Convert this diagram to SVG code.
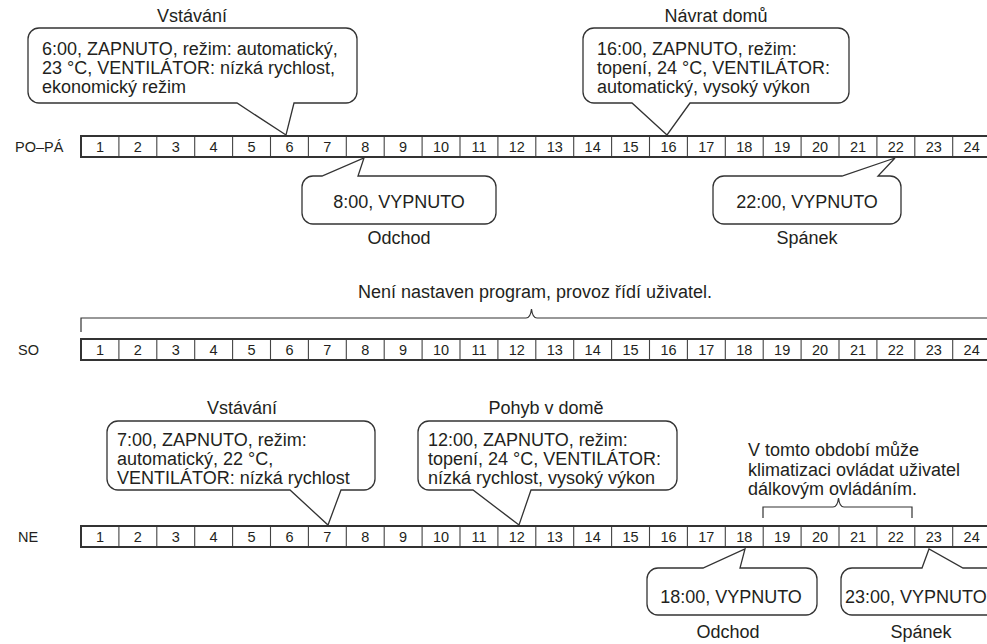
<svg xmlns="http://www.w3.org/2000/svg" width="987" height="644" viewBox="0 0 987 644">
<style>
text{font-family:"Liberation Sans",Arial,sans-serif;fill:#231f20}
.t{font-size:18px}
.n{font-size:14.5px;text-anchor:middle}
.lbl{font-size:14.5px}
.c{text-anchor:middle}
.box{fill:#fff;stroke:#333;stroke-width:1.3}
.edge{fill:none;stroke:#333;stroke-width:2}
.sep{fill:none;stroke:#444;stroke-width:1.1}
.br{fill:none;stroke:#333;stroke-width:1.2}
</style>
<rect width="987" height="644" fill="#fff"/>

<g id="row-po-pa">
<text class="lbl" x="15" y="152">PO–PÁ</text>
<path class="sep" d="M81,136 v21 m37.9,-21 v21 m37.9,-21 v21 m37.9,-21 v21 m37.9,-21 v21 m37.9,-21 v21 m37.9,-21 v21 m37.9,-21 v21 m37.9,-21 v21 m37.9,-21 v21 m37.9,-21 v21 m37.9,-21 v21 m37.9,-21 v21 m37.9,-21 v21 m37.9,-21 v21 m37.9,-21 v21 m37.9,-21 v21 m37.9,-21 v21 m37.9,-21 v21 m37.9,-21 v21 m37.9,-21 v21 m37.9,-21 v21 m37.9,-21 v21 m37.9,-21 v21"/>
<path class="edge" d="M80,136 H992 M80,157 H992 M81,135 V158"/>
<text class="n" x="99.95" y="151.5">1</text><text class="n" x="137.85" y="151.5">2</text><text class="n" x="175.75" y="151.5">3</text><text class="n" x="213.65" y="151.5">4</text><text class="n" x="251.55" y="151.5">5</text><text class="n" x="289.45" y="151.5">6</text><text class="n" x="327.35" y="151.5">7</text><text class="n" x="365.25" y="151.5">8</text><text class="n" x="403.15" y="151.5">9</text><text class="n" x="441.05" y="151.5">10</text><text class="n" x="478.95" y="151.5">11</text><text class="n" x="516.85" y="151.5">12</text><text class="n" x="554.75" y="151.5">13</text><text class="n" x="592.65" y="151.5">14</text><text class="n" x="630.55" y="151.5">15</text><text class="n" x="668.45" y="151.5">16</text><text class="n" x="706.35" y="151.5">17</text><text class="n" x="744.25" y="151.5">18</text><text class="n" x="782.15" y="151.5">19</text><text class="n" x="820.05" y="151.5">20</text><text class="n" x="857.95" y="151.5">21</text><text class="n" x="895.85" y="151.5">22</text><text class="n" x="933.75" y="151.5">23</text><text class="n" x="971.65" y="151.5">24</text>
</g>

<g id="row-so">
<text class="lbl" x="18" y="355">SO</text>
<path class="sep" d="M81,339 v21 m37.9,-21 v21 m37.9,-21 v21 m37.9,-21 v21 m37.9,-21 v21 m37.9,-21 v21 m37.9,-21 v21 m37.9,-21 v21 m37.9,-21 v21 m37.9,-21 v21 m37.9,-21 v21 m37.9,-21 v21 m37.9,-21 v21 m37.9,-21 v21 m37.9,-21 v21 m37.9,-21 v21 m37.9,-21 v21 m37.9,-21 v21 m37.9,-21 v21 m37.9,-21 v21 m37.9,-21 v21 m37.9,-21 v21 m37.9,-21 v21 m37.9,-21 v21"/>
<path class="edge" d="M80,339 H992 M80,360 H992 M81,338 V361"/>
<text class="n" x="99.95" y="354.5">1</text><text class="n" x="137.85" y="354.5">2</text><text class="n" x="175.75" y="354.5">3</text><text class="n" x="213.65" y="354.5">4</text><text class="n" x="251.55" y="354.5">5</text><text class="n" x="289.45" y="354.5">6</text><text class="n" x="327.35" y="354.5">7</text><text class="n" x="365.25" y="354.5">8</text><text class="n" x="403.15" y="354.5">9</text><text class="n" x="441.05" y="354.5">10</text><text class="n" x="478.95" y="354.5">11</text><text class="n" x="516.85" y="354.5">12</text><text class="n" x="554.75" y="354.5">13</text><text class="n" x="592.65" y="354.5">14</text><text class="n" x="630.55" y="354.5">15</text><text class="n" x="668.45" y="354.5">16</text><text class="n" x="706.35" y="354.5">17</text><text class="n" x="744.25" y="354.5">18</text><text class="n" x="782.15" y="354.5">19</text><text class="n" x="820.05" y="354.5">20</text><text class="n" x="857.95" y="354.5">21</text><text class="n" x="895.85" y="354.5">22</text><text class="n" x="933.75" y="354.5">23</text><text class="n" x="971.65" y="354.5">24</text>
</g>

<g id="row-ne">
<text class="lbl" x="18" y="542">NE</text>
<path class="sep" d="M81,526 v21 m37.9,-21 v21 m37.9,-21 v21 m37.9,-21 v21 m37.9,-21 v21 m37.9,-21 v21 m37.9,-21 v21 m37.9,-21 v21 m37.9,-21 v21 m37.9,-21 v21 m37.9,-21 v21 m37.9,-21 v21 m37.9,-21 v21 m37.9,-21 v21 m37.9,-21 v21 m37.9,-21 v21 m37.9,-21 v21 m37.9,-21 v21 m37.9,-21 v21 m37.9,-21 v21 m37.9,-21 v21 m37.9,-21 v21 m37.9,-21 v21 m37.9,-21 v21 m37.9,-21 v21"/>
<path class="edge" d="M80,526 H992 M80,547 H992 M81,525 V548"/>
<text class="n" x="99.95" y="541.5">1</text><text class="n" x="137.85" y="541.5">2</text><text class="n" x="175.75" y="541.5">3</text><text class="n" x="213.65" y="541.5">4</text><text class="n" x="251.55" y="541.5">5</text><text class="n" x="289.45" y="541.5">6</text><text class="n" x="327.35" y="541.5">7</text><text class="n" x="365.25" y="541.5">8</text><text class="n" x="403.15" y="541.5">9</text><text class="n" x="441.05" y="541.5">10</text><text class="n" x="478.95" y="541.5">11</text><text class="n" x="516.85" y="541.5">12</text><text class="n" x="554.75" y="541.5">13</text><text class="n" x="592.65" y="541.5">14</text><text class="n" x="630.55" y="541.5">15</text><text class="n" x="668.45" y="541.5">16</text><text class="n" x="706.35" y="541.5">17</text><text class="n" x="744.25" y="541.5">18</text><text class="n" x="782.15" y="541.5">19</text><text class="n" x="820.05" y="541.5">20</text><text class="n" x="857.95" y="541.5">21</text><text class="n" x="895.85" y="541.5">22</text><text class="n" x="933.75" y="541.5">23</text><text class="n" x="971.65" y="541.5">24</text>
</g>

<g id="connectors">
<path class="br" d="M81,332 V318 H526 Q530.5,318 531.5,309 Q532.5,318 537,318 H992"/>
<path class="br" d="M763,518 V507 H833 Q837.5,507 838.5,498 Q839.5,507 844,507 H912 V518"/>
</g>

<g id="callout-pp-0600">
<text class="t c" x="192" y="22">Vstávání</text>
<path class="box" d="M39,28 H346 A11,11 0 0 1 357,39 V92 A11,11 0 0 1 346,103 H294 L286,135 L237,103 H39 A11,11 0 0 1 28,92 V39 A11,11 0 0 1 39,28 Z"/>
<text class="t" x="42" y="55">6:00, ZAPNUTO, režim: automatický,</text>
<text class="t" x="42" y="74">23 °C, VENTILÁTOR: nízká rychlost,</text>
<text class="t" x="42" y="93">ekonomický režim</text>
</g>

<g id="callout-pp-1600">
<text class="t c" x="716" y="22">Návrat domů</text>
<path class="box" d="M594,28 H838 A11,11 0 0 1 849,39 V92 A11,11 0 0 1 838,103 H690 L667,135 L632,103 H594 A11,11 0 0 1 583,92 V39 A11,11 0 0 1 594,28 Z"/>
<text class="t" x="597" y="55">16:00, ZAPNUTO, režim:</text>
<text class="t" x="597" y="74">topení, 24 °C, VENTILÁTOR:</text>
<text class="t" x="597" y="93">automatický, vysoký výkon</text>
</g>

<g id="callout-pp-0800">
<path class="box" d="M313,176 H322 L364,158 L358,176 H485 A11,11 0 0 1 496,187 V213 A11,11 0 0 1 485,224 H313 A11,11 0 0 1 302,213 V187 A11,11 0 0 1 313,176 Z"/>
<text class="t c" x="399" y="208">8:00, VYPNUTO</text>
<text class="t c" x="399" y="244">Odchod</text>
</g>

<g id="callout-pp-2200">
<path class="box" d="M724,176 H842 L895,158 L878,176 H890 A11,11 0 0 1 901,187 V213 A11,11 0 0 1 890,224 H724 A11,11 0 0 1 713,213 V187 A11,11 0 0 1 724,176 Z"/>
<text class="t c" x="807" y="208">22:00, VYPNUTO</text>
<text class="t c" x="807" y="244">Spánek</text>
</g>

<g id="note-so">
<text class="t c" x="535" y="298">Není nastaven program, provoz řídí uživatel.</text>
</g>

<g id="callout-ne-0700">
<text class="t c" x="242" y="414">Vstávání</text>
<path class="box" d="M118,421 H364 A11,11 0 0 1 375,432 V479 A11,11 0 0 1 364,490 H341 L328,525 L290,490 H118 A11,11 0 0 1 107,479 V432 A11,11 0 0 1 118,421 Z"/>
<text class="t" x="117" y="446">7:00, ZAPNUTO, režim:</text>
<text class="t" x="117" y="465">automatický, 22 °C,</text>
<text class="t" x="117" y="484">VENTILÁTOR: nízká rychlost</text>
</g>

<g id="callout-ne-1200">
<text class="t c" x="546" y="414">Pohyb v domě</text>
<path class="box" d="M429,421 H666 A11,11 0 0 1 677,432 V479 A11,11 0 0 1 666,490 H531 L519,525 L473,490 H429 A11,11 0 0 1 418,479 V432 A11,11 0 0 1 429,421 Z"/>
<text class="t" x="428" y="446">12:00, ZAPNUTO, režim:</text>
<text class="t" x="428" y="465">topení, 24 °C, VENTILÁTOR:</text>
<text class="t" x="428" y="484">nízká rychlost, vysoký výkon</text>
</g>

<g id="note-ne">
<text class="t" x="748" y="456">V tomto období může</text>
<text class="t" x="748" y="476">klimatizaci ovládat uživatel</text>
<text class="t" x="748" y="495">dálkovým ovládáním.</text>
</g>

<g id="callout-ne-1800">
<path class="box" d="M658,568 H703 L745,549 L740,568 H806 A11,11 0 0 1 817,579 V604 A11,11 0 0 1 806,615 H658 A11,11 0 0 1 647,604 V579 A11,11 0 0 1 658,568 Z"/>
<text class="t c" x="731" y="603">18:00, VYPNUTO</text>
<text class="t c" x="728" y="638">Odchod</text>
</g>

<g id="callout-ne-2300">
<path class="box" d="M852,568 H922 L929,549 L963,568 H1009 A11,11 0 0 1 1020,579 V604 A11,11 0 0 1 1009,615 H852 A11,11 0 0 1 841,604 V579 A11,11 0 0 1 852,568 Z"/>
<text class="t" x="845" y="603">23:00, VYPNUTO</text>
<text class="t c" x="921" y="638">Spánek</text>
</g>
</svg>
